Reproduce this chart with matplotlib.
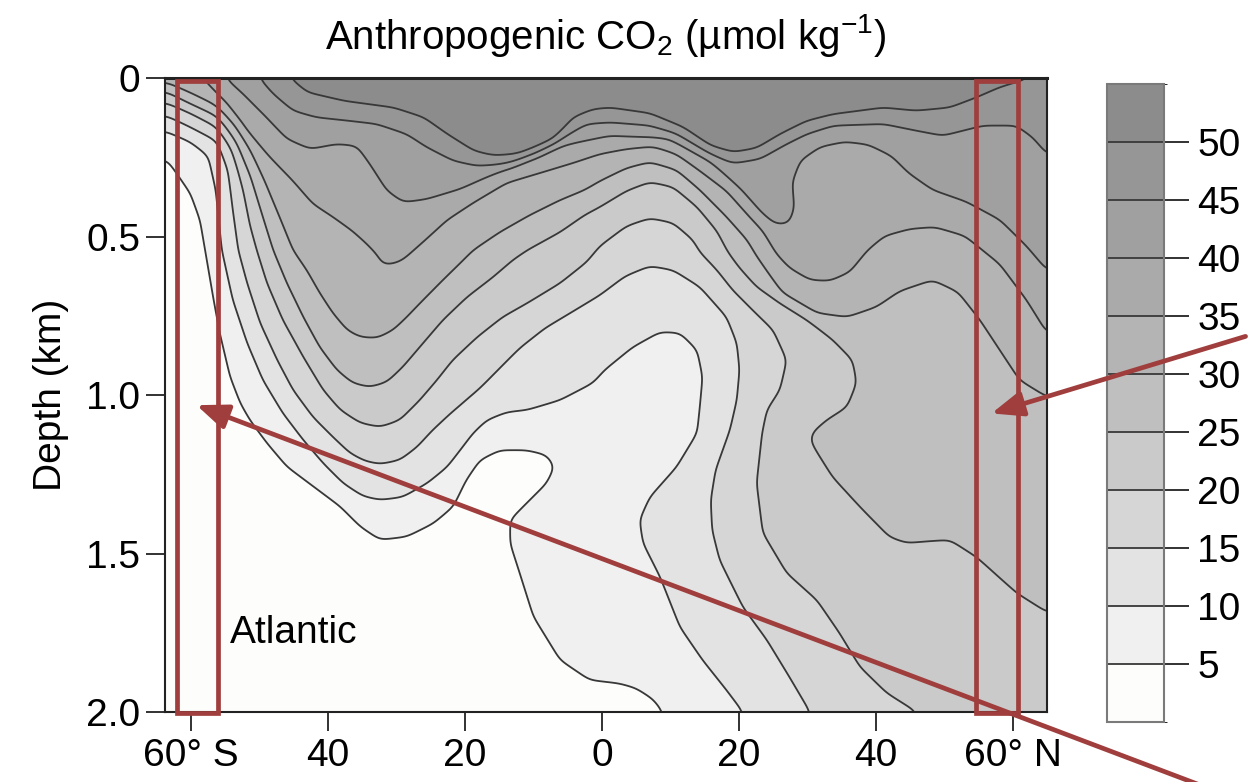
import numpy as np
import matplotlib
matplotlib.use("Agg")
import matplotlib.pyplot as plt
from matplotlib.path import Path
from matplotlib.colors import ListedColormap, BoundaryNorm
from matplotlib.patches import Rectangle, FancyArrowPatch

plt.rcParams['font.family'] = ['Liberation Sans', 'DejaVu Sans']
plt.rcParams['mathtext.fontset'] = 'custom'
plt.rcParams['mathtext.rm'] = 'Liberation Sans'
plt.rcParams['mathtext.it'] = 'Liberation Sans:italic'
plt.rcParams['mathtext.bf'] = 'Liberation Sans:bold'
plt.rcParams['mathtext.default'] = 'regular'

# ---------------- data ----------------
levels = [0, 5, 10, 15, 20, 25, 30, 35, 40, 45, 50, 55]
band_colors = ['#fdfdfb', '#f0f0f0', '#e3e3e3', '#d6d6d6', '#cacaca', '#bfbfbf',
               '#b4b4b4', '#aaaaaa', '#a0a0a0', '#969696', '#8c8c8c']

x_ticks = [-60, -40, -20, 0, 20, 40, 60]
x_ticklabels = ['60\u00b0 S', '40', '20', '0', '20', '40', '60\u00b0 N']
y_ticks = [0, 0.5, 1.0, 1.5, 2.0]
y_ticklabels = ['0', '0.5', '1.0', '1.5', '2.0']
cbar_ticks = [5, 10, 15, 20, 25, 30, 35, 40, 45, 50]

# digitised isolines: latitude (deg, S negative) and depth (km)
lat_c50 = [-46.5, -45.5, -43.0, -37.6, -30.4, -26.0, -22.6, -18.7, -15.8, -12.0, -7.1, -4.2, -1.3, 1.2, 7.0,
           11.9, 15.8, 19.2, 22.6, 26.0, 29.9, 33.8, 41.1, 45.9, 50.8, 54.7, 58.1, 62.5, 63.5]
dep_c50 = [-0.03, 0.0, 0.045, 0.072, 0.093, 0.124, 0.176, 0.229, 0.245, 0.24, 0.198, 0.124, 0.098, 0.093, 0.111,
           0.156, 0.214, 0.234, 0.221, 0.177, 0.135, 0.114, 0.093, 0.103, 0.093, 0.061, 0.029, 0.0, -0.03]

lat_c45 = [-50.5, -49.9, -48.0, -45.1, -41.7, -37.3, -32.9, -28.5, -25.6, -21.7, -18.3, -13.4, -9.5, -5.1, -2.2,
           1.2, 7.0, 10.9, 15.8, 19.2, 23.1, 27.0, 29.9, 33.8, 41.1, 45.9, 49.8, 55.7, 60.5, 62.9, 65.0, 67.0]
dep_c45 = [-0.03, 0.003, 0.05, 0.103, 0.124, 0.134, 0.145, 0.177, 0.218, 0.261, 0.277, 0.271, 0.24, 0.18, 0.145,
           0.14, 0.15, 0.177, 0.24, 0.269, 0.255, 0.208, 0.177, 0.15, 0.145, 0.166, 0.182, 0.15, 0.15, 0.187, 0.24, 0.27]

lat_c40 = [-55.2, -54.8, -52.4, -49.0, -46.0, -42.6, -38.7, -35.8, -33.9, -31.4, -29.0, -25.6, -20.7, -15.8,
           -11.0, -6.1, 1.2, 9.7, 15.6, 20.4, 23.4, 25.3, 27.3, 28.1, 27.8, 29.0, 31.9, 35.5, 38.9, 42.3, 44.8,
           48.3, 53.2, 58.1, 62.0, 65.0, 67.0]
dep_c40 = [-0.03, 0.003, 0.05, 0.124, 0.192, 0.224, 0.208, 0.214, 0.271, 0.355, 0.392, 0.382, 0.35, 0.303,
           0.256, 0.214, 0.182, 0.19, 0.258, 0.353, 0.426, 0.46, 0.46, 0.41, 0.328, 0.26, 0.217, 0.201, 0.21, 0.246, 0.3,
           0.353, 0.39, 0.447, 0.53, 0.606, 0.65]

lat_c35 = [-59.6, -58.2, -54.7, -51.8, -48.5, -45.1, -42.2, -39.3, -36.4, -34.3, -32.8, -32.0, -30.2, -29.1,
           -26.1, -22.6, -18.8, -13.9, -9.1, -4.2, -0.3, 3.6, 7.4, 10.9, 14.3, 18.2, 21.2, 23.5, 25.5, 27.4, 30.4,
           33.3, 36.2, 38.8, 41.3, 45.0, 48.6, 53.0, 58.1, 62.0, 65.0, 66.9]
dep_c35 = [-0.03, 0.003, 0.082, 0.167, 0.249, 0.325, 0.397, 0.438, 0.483, 0.524, 0.558, 0.59, 0.584, 0.574,
           0.517, 0.448, 0.394, 0.331, 0.30, 0.268, 0.24, 0.224, 0.215, 0.24, 0.293, 0.356, 0.429, 0.483, 0.555, 0.599,
           0.637, 0.64, 0.612, 0.543, 0.498, 0.476, 0.47, 0.498, 0.587, 0.70, 0.804, 0.858]

lat_c30 = [-65.5, -63.5, -60.1, -56.5, -53.6, -51.4, -49.2, -47.0, -45.1, -43.1, -41.2, -39.3, -37.2, -35.3,
           -32.8, -30.5, -28.5, -26.1, -23.2, -20.7, -18.8, -14.9, -10.5, -6.1, -2.5, -0.3, 3.6, 7.0, 10.9, 14.3,
           18.2, 21.2, 22.6, 24.5, 26.4, 31.4, 35.8, 40.1, 43.5, 48.3, 52.0, 55.2, 58.1, 61.0, 65.0, 67.0]
dep_c30 = [0.012, 0.016, 0.047, 0.085, 0.148, 0.227, 0.328, 0.442, 0.543, 0.606, 0.678, 0.741, 0.795, 0.817,
           0.82, 0.795, 0.754, 0.70, 0.637, 0.584, 0.543, 0.486, 0.432, 0.385, 0.353, 0.325, 0.284, 0.265, 0.29, 0.353,
           0.438, 0.511, 0.562, 0.621, 0.678, 0.741, 0.754, 0.722, 0.672, 0.637, 0.675, 0.763, 0.858, 0.953, 1.006, 1.02]

lat_c25 = [-65.5, -63.5, -60.1, -56.2, -53.6, -51.4, -49.6, -48.0, -46.0, -43.6, -41.2, -38.7, -36.4, -33.9,
           -31.4, -29.1, -26.1, -23.2, -19.7, -15.9, -13.0, -10.9, -6.1, -2.5, -0.3, 3.6, 7.0, 10.4, 13.9, 16.8,
           18.4, 20.1, 22.6, 26.0, 29.9, 33.7, 36.6, 37.2, 35.8, 32.8, 30.8, 30.4, 31.4, 33.7, 37.7, 42.0, 44.5,
           47.9, 50.8, 54.7, 60.6, 65.0, 67.0]
dep_c25 = [0.04, 0.044, 0.082, 0.12, 0.196, 0.306, 0.432, 0.543, 0.647, 0.754, 0.849, 0.921, 0.962, 0.975,
           0.959, 0.912, 0.836, 0.763, 0.691, 0.628, 0.574, 0.543, 0.486, 0.432, 0.407, 0.356, 0.328, 0.344, 0.407, 0.483,
           0.549, 0.599, 0.659, 0.71, 0.763, 0.826, 0.89, 0.962, 1.038, 1.079, 1.117, 1.142, 1.18, 1.259, 1.353, 1.448, 1.467,
           1.461, 1.457, 1.511, 1.625, 1.685, 1.70]

lat_c20 = [-65.5, -63.5, -60.1, -56.2, -54.0, -52.4, -51.4, -50.4, -48.9, -46.6, -43.6, -40.7, -38.2, -35.3,
           -32.4, -29.5, -26.6, -24.1, -21.8, -18.2, -14.5, -10.9, -6.1, -2.2, -0.3, 3.6, 7.0, 10.4, 13.3, 14.3,
           16.8, 19.1, 22.0, 25.0, 27.0, 26.0, 24.1, 23.4, 22.6, 23.5, 27.0, 31.4, 34.7, 37.7, 41.6, 46.0, 47.5]
dep_c20 = [0.075, 0.079, 0.11, 0.155, 0.227, 0.353, 0.464, 0.543, 0.647, 0.763, 0.88, 0.984, 1.047, 1.088,
           1.101, 1.079, 1.016, 0.953, 0.89, 0.817, 0.754, 0.71, 0.647, 0.58, 0.53, 0.467, 0.442, 0.457, 0.511, 0.549,
           0.606, 0.669, 0.732, 0.795, 0.89, 0.984, 1.047, 1.12, 1.278, 1.435, 1.562, 1.647, 1.751, 1.858, 1.94, 2.0, 2.04]

lat_c15 = [-65.5, -63.5, -60.1, -56.2, -54.6, -53.9, -53.1, -51.8, -49.9, -47.4, -45.1, -42.2, -39.3, -36.8,
           -34.6, -32.4, -29.5, -27.0, -24.7, -22.2, -20.0, -17.8, -14.9, -12.0, -8.3, -3.9, -0.3, 3.4, 7.0, 10.4,
           14.3, 18.2, 19.7, 20.1, 19.7, 18.7, 16.6, 15.9, 16.1, 17.2, 20.6, 24.1, 27.4, 30.4, 31.2]
dep_c15 = [0.115, 0.12, 0.155, 0.199, 0.29, 0.416, 0.543, 0.647, 0.773, 0.89, 0.984, 1.069, 1.132, 1.183,
           1.208, 1.218, 1.205, 1.164, 1.11, 1.06, 1.019, 0.978, 0.915, 0.852, 0.789, 0.732, 0.685, 0.625, 0.593, 0.606,
           0.659, 0.754, 0.836, 0.921, 1.016, 1.11, 1.237, 1.331, 1.426, 1.521, 1.669, 1.773, 1.89, 2.0, 2.04]

lat_c10 = [-65.5, -63.5, -60.1, -57.5, -56.4, -55.5, -53.9, -51.8, -49.5, -46.6, -43.6, -40.7, -37.8, -34.9,
           -32.4, -29.1, -25.5, -22.6, -20.7, -18.8, -16.8, -13.9, -10.9, -6.1, -1.3, 0.4, 4.5, 8.5, 11.4, 13.9,
           14.7, 14.3, 13.9, 10.9, 7.0, 5.5, 6.0, 8.5, 11.4, 14.7, 18.2, 20.6, 21.3]
dep_c10 = [0.16, 0.17, 0.202, 0.246, 0.353, 0.543, 0.70, 0.836, 0.953, 1.057, 1.142, 1.215, 1.278, 1.319,
           1.331, 1.322, 1.278, 1.227, 1.174, 1.12, 1.079, 1.054, 1.047, 1.016, 0.962, 0.921, 0.849, 0.801, 0.804, 0.858,
           0.943, 1.038, 1.12, 1.227, 1.322, 1.394, 1.467, 1.574, 1.732, 1.836, 1.931, 2.0, 2.04]

lat_c05 = [-65.5, -63.5, -62.1, -60.1, -58.7, -57.7, -56.7, -55.8, -54.3, -52.8, -51.4, -48.9, -46.0, -42.1,
           -38.2, -35.3, -32.4, -28.5, -24.6, -21.7, -19.8, -17.8, -14.9, -11.0, -8.1, -6.9, -8.1, -11.5, -13.4,
           -13.4, -12.0, -10.0, -6.1, -1.8, 2.6, 5.0, 7.5, 8.9, 9.6]
dep_c05 = [0.25, 0.259, 0.301, 0.364, 0.448, 0.574, 0.70, 0.805, 0.942, 1.026, 1.079, 1.152, 1.226, 1.289,
           1.352, 1.415, 1.457, 1.447, 1.405, 1.352, 1.268, 1.205, 1.174, 1.174, 1.189, 1.226, 1.279, 1.352, 1.394,
           1.468, 1.562, 1.699, 1.836, 1.899, 1.91, 1.925, 1.96, 2.0, 2.04]

isolines = [(lat_c05, dep_c05), (lat_c10, dep_c10), (lat_c15, dep_c15), (lat_c20, dep_c20),
            (lat_c25, dep_c25), (lat_c30, dep_c30), (lat_c35, dep_c35), (lat_c40, dep_c40),
            (lat_c45, dep_c45), (lat_c50, dep_c50)]

# annotation boxes (latitude span) and arrows (tail -> head, in lat/depth)
box_lat_spans = [(-62.1, -56.0), (54.7, 60.8)]
arrow_tail_head = [((94.0, 0.815), (56.9, 1.058)),
                   ((87.3, 2.23), (-59.2, 1.032))]

# ---------------- build the concentration field from the isolines ----------------
lat_lo, lat_hi = -63.8, 65.0
lat_grid = np.linspace(lat_lo, lat_hi, 560)
dep_grid = np.linspace(0.0, 2.0, 420)
LA, DE = np.meshgrid(lat_grid, dep_grid)
SX, SY = 6.85, 317.0           # roughly isotropic (pixel-like) metric
PX, PY = LA * SX, DE * SY
pts = np.column_stack([LA.ravel(), DE.ravel()])


def signed_distance(lat, dep):
    lat = np.asarray(lat, float)
    dep = np.asarray(dep, float)
    X, Y = lat * SX, dep * SY
    dmin = np.full(PX.shape, np.inf)
    for i in range(len(X) - 1):
        ax_, ay_, vx, vy = X[i], Y[i], X[i + 1] - X[i], Y[i + 1] - Y[i]
        L2 = vx * vx + vy * vy
        if L2 == 0:
            continue
        t = np.clip(((PX - ax_) * vx + (PY - ay_) * vy) / L2, 0, 1)
        dx = PX - (ax_ + t * vx)
        dy = PY - (ay_ + t * vy)
        dmin = np.minimum(dmin, dx * dx + dy * dy)
    dist = np.sqrt(dmin)
    poly = np.vstack([np.column_stack([lat, dep]),
                      [[90, dep[-1]], [90, -1.0], [-90, -1.0], [-90, dep[0]]]])
    inside = Path(poly).contains_points(pts).reshape(PX.shape)
    return np.where(inside, dist, -dist)


def gaussian_smooth(a, sig_x, sig_y):
    def kern(s):
        r = int(np.ceil(3 * s))
        k = np.exp(-0.5 * (np.arange(-r, r + 1) / s) ** 2)
        return k / k.sum(), r
    kx, rx = kern(sig_x)
    ky, ry = kern(sig_y)
    b = np.pad(a, ((0, 0), (rx, rx)), mode='edge')
    b = np.apply_along_axis(lambda v: np.convolve(v, kx, mode='valid'), 1, b)
    b = np.pad(b, ((ry, ry), (0, 0)), mode='edge')
    b = np.apply_along_axis(lambda v: np.convolve(v, ky, mode='valid'), 0, b)
    return b


ramp_w = 3.0
field = np.full(PX.shape, 2.5)
for lat_k, dep_k in isolines:
    sd = signed_distance(lat_k, dep_k)
    field += 5.0 * np.clip(0.5 + sd / ramp_w, 0.0, 1.0)

# smooth (about 5 px) so that the isolines are drawn as smooth curves
px_per_cell_x = (lat_grid[1] - lat_grid[0]) * SX
px_per_cell_y = (dep_grid[1] - dep_grid[0]) * SY
field = gaussian_smooth(field, 5.0 / px_per_cell_x, 5.0 / px_per_cell_y)

# ---------------- plot ----------------
fig = plt.figure(figsize=(12.51, 7.82), dpi=100)
ax = fig.add_axes([0.1319, 0.0895, 0.7050, 0.8107])

cmap = ListedColormap(band_colors)
norm = BoundaryNorm(levels, cmap.N)
cf = ax.contourf(LA, DE, field, levels=levels, cmap=cmap, norm=norm)
cs = ax.contour(LA, DE, field, levels=levels[1:-1], colors='#383838', linewidths=1.3)

ax.set_xlim(lat_lo, lat_hi)
ax.set_ylim(2.0, 0.0)
ax.set_xticks(x_ticks)
ax.set_xticklabels(x_ticklabels)
ax.set_yticks(y_ticks)
ax.set_yticklabels(y_ticklabels)
ax.tick_params(axis='both', direction='out', length=14, width=1.3, labelsize=28, color='#222222')
ax.tick_params(axis='x', pad=5)
ax.tick_params(axis='y', pad=4)
for side, sp in ax.spines.items():
    sp.set_color('#222222')
    sp.set_linewidth(2.2 if side == 'top' else 1.5)

ax.set_ylabel('Depth (km)', fontsize=28, labelpad=12)
ax.set_title('Anthropogenic CO$_2$ (\u00b5mol kg$^{-1}$)', fontsize=29, pad=21)
ax.text(-54.3, 1.75, 'Atlantic', fontsize=28, ha='left', va='center')

red = '#a03e3d'
for lo, hi in box_lat_spans:
    ax.add_patch(Rectangle((lo, 0.008), hi - lo, 1.995, fill=False, edgecolor=red,
                           linewidth=3.4, zorder=6, clip_on=False))

# colorbar
cax = fig.add_axes([0.8849, 0.0767, 0.0456, 0.8159])
cbar = fig.colorbar(cf, cax=cax, ticks=cbar_ticks)
cbar.add_lines(cs)
cax.tick_params(direction='out', length=18, width=1.3, labelsize=28, pad=6, color='#222222')
cbar.outline.set_edgecolor('#7a7a7a')
cbar.outline.set_linewidth(1.5)

for tail, head in arrow_tail_head:
    arr = FancyArrowPatch(tail, head, transform=ax.transData,
                          arrowstyle='-|>,head_length=0.95,head_width=0.38',
                          mutation_scale=20, linewidth=3.4, color=red,
                          shrinkA=0, shrinkB=0, zorder=10)
    fig.add_artist(arr)

fig.savefig('out.png', dpi=100)
